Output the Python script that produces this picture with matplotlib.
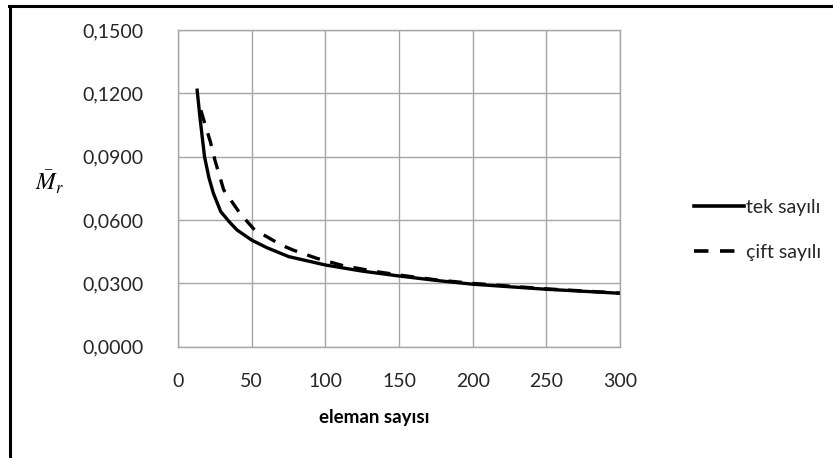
import matplotlib
matplotlib.use('Agg')
import matplotlib.pyplot as plt
from matplotlib.lines import Line2D

# tek sayili (solid)
tek_x = [13, 15, 18, 21, 24, 29, 35, 40, 50, 60, 75, 100, 125, 150, 175, 200, 250, 300]
tek_y = [0.1215, 0.1080, 0.0900, 0.0800, 0.0727, 0.0640, 0.0590, 0.0553, 0.0505, 0.0470, 0.0427,
         0.0387, 0.0358, 0.0335, 0.0314, 0.0296, 0.0272, 0.0253]

# cift sayili (dashed)
cift_x = [15.5, 19.5, 22, 25, 31, 42, 52, 60, 70, 78, 94, 112, 135, 155, 176, 200, 250, 300]
cift_y = [0.1120, 0.1027, 0.0970, 0.0885, 0.0743, 0.0632, 0.0553, 0.0522, 0.0482, 0.0458, 0.0419,
          0.0384, 0.0355, 0.0335, 0.0316, 0.0300, 0.0274, 0.0254]

x_ticks = [0, 50, 100, 150, 200, 250, 300]
y_ticks = [0.0, 0.03, 0.06, 0.09, 0.12, 0.15]
y_tick_labels = ['0,0000', '0,0300', '0,0600', '0,0900', '0,1200', '0,1500']

plt.rcParams['font.family'] = ['Lato', 'DejaVu Sans']
plt.rcParams['mathtext.fontset'] = 'stix'

fig = plt.figure(figsize=(8.33, 4.58), dpi=100)
ax = fig.add_axes([178 / 833, 1 - 346.7 / 458, (620 - 178) / 833, (346.7 - 30) / 458])

ax.plot(tek_x, tek_y, color='black', lw=2.4, solid_joinstyle='round')
ax.plot(cift_x, cift_y, color='black', lw=2.4, dashes=(4, 3.2))

ax.set_xlim(0, 300)
ax.set_ylim(0, 0.15)
ax.set_xticks(x_ticks)
ax.set_yticks(y_ticks)
ax.set_yticklabels(y_tick_labels)
ax.tick_params(length=0, labelsize=14, colors='#262626')
ax.tick_params(axis='y', pad=25)
ax.tick_params(axis='x', pad=19)
ax.grid(True, color='#a6a6a6', lw=1)
ax.set_axisbelow(True)
for s in ax.spines.values():
    s.set_color('#a6a6a6')
    s.set_linewidth(1)

fig.text(374 / 833, 1 - 418 / 458, 'eleman sayısı', ha='center', va='center',
         fontsize=13.5, fontweight='bold')
fig.text(50 / 833, 1 - 182 / 458, r'$\bar{M}_r$', ha='center', va='center', fontsize=17)

handles = [Line2D([], [], color='black', lw=2.6),
           Line2D([], [], color='black', lw=2.6, dashes=(4, 3.2))]
fig.legend(handles, ['tek sayılı', 'çift sayılı'], loc='center left',
           bbox_to_anchor=(676 / 833, 1 - 230 / 458), frameon=False, fontsize=14,
           handlelength=2.6, handletextpad=0.1, labelspacing=1.45, labelcolor='#262626')

# outer frame (left and top edges visible)
fig.add_artist(Line2D([10 / 833, 10 / 833], [0, 1 - 6 / 458], color='black', lw=2.2,
                      transform=fig.transFigure))
fig.add_artist(Line2D([9 / 833, 1], [1 - 6 / 458, 1 - 6 / 458], color='black', lw=2.2,
                      transform=fig.transFigure))

fig.savefig('out.png', dpi=100)
